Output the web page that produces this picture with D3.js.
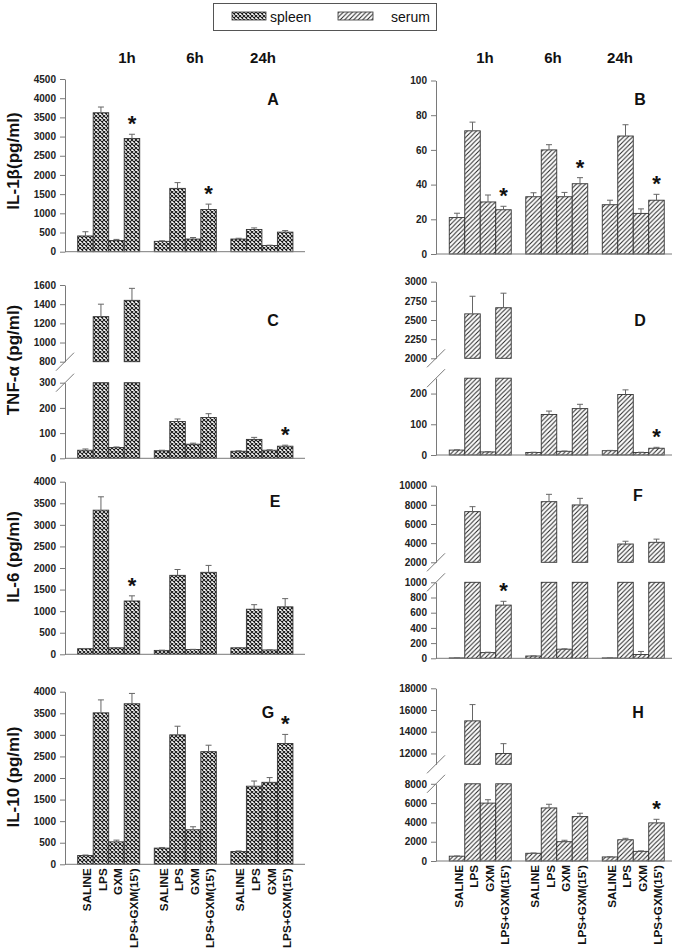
<!DOCTYPE html>
<html><head><meta charset="utf-8">
<script src="https://cdn.jsdelivr.net/npm/d3@7"></script>
<style>body{margin:0;background:#fff} text{font-family:"Liberation Sans",Arial,sans-serif}</style>
</head><body><svg id="c" width="680" height="952"></svg>
<script>
// ---------- DATA ----------
const groups = ["1h","6h","24h"];
const treatments = ["SALINE","LPS","GXM","LPS+GXM(15')"];
const tissues = ["spleen","serum"];

// values [group][treatment], error tops [group][treatment], stars [group,treatment]
const il1bSpleen    = [[410,3620,290,2950],[270,1650,330,1100],[330,580,160,510]];
const il1bSpleenErr = [[520,3770,320,3060],[285,1800,370,1240],[350,620,170,550]];
const il1bSpleenStars = [[0,3],[1,3]];
const il1bSerum     = [[21,71,30,25.5],[33,60,33,40.5],[28.4,68,23.4,31]];
const il1bSerumErr  = [[23.5,76,34,27.5],[35.3,63,35.5,44],[31,74.5,26,34.4]];
const il1bSerumStars = [[0,3],[1,3],[2,3]];

const tnfSpleen     = [[32,1270,43,1440],[30,146,56,162],[28,75,32,48]];
const tnfSpleenErr  = [[37,1400,45,1565],[32,156,60,177],[30,83,34,52]];
const tnfSpleenStars = [[2,3]];
const tnfSerum      = [[16,2580,10,2660],[8,132,12,151],[14,197,8,22]];
const tnfSerumErr   = [[17,2810,11,2850],[9,143,13,165],[15,212,9,25]];
const tnfSerumStars = [[2,3]];

const il6Spleen     = [[130,3340,150,1235],[90,1830,110,1900],[150,1045,100,1100]];
const il6SpleenErr  = [[135,3650,155,1355],[95,1965,115,2060],[155,1150,105,1290]];
const il6SpleenStars = [[0,3]];
const il6Serum      = [[5,7290,75,700],[30,8330,120,7990],[5,3910,50,4090]];
const il6SerumErr   = [[6,7810,80,750],[32,9100,125,8680],[6,4200,90,4420]];
const il6SerumStars = [[0,3]];

const il10Spleen    = [[205,3510,520,3720],[375,3000,800,2610],[295,1810,1900,2800]];
const il10SpleenErr = [[215,3810,560,3960],[390,3200,870,2760],[310,1930,2010,3010]];
const il10SpleenStars = [[2,3]];
const il10Serum     = [[500,15000,6000,12000],[800,5500,2000,4600],[420,2200,1000,3950]];
const il10SerumErr  = [[520,16500,6350,12900],[830,5880,2150,4950],[440,2350,1050,4320]];
const il10SerumStars = [[2,3]];

// axis segments (value domains) and tick labels
const il1bSpleenTicks = [0,500,1000,1500,2000,2500,3000,3500,4000,4500];
const il1bSerumTicks  = [0,20,40,60,80,100];
const tnfSpleenTicksLow = [0,100,200,300], tnfSpleenTicksHigh = [800,1000,1200,1400,1600];
const tnfSerumTicksLow  = [0,100,200],     tnfSerumTicksHigh  = [2000,2250,2500,2750,3000];
const il6SpleenTicks = [0,500,1000,1500,2000,2500,3000,3500,4000];
const il6SerumTicksLow = [0,200,400,600,800,1000], il6SerumTicksHigh = [2000,4000,6000,8000,10000];
const il10SpleenTicks = [0,500,1000,1500,2000,2500,3000,3500,4000];
const il10SerumTicksLow = [0,2000,4000,6000,8000], il10SerumTicksHigh = [12000,14000,16000,18000];

const yLabels = ["IL-1β(pg/ml)","TNF-α (pg/ml)","IL-6 (pg/ml)","IL-10 (pg/ml)"];
const letters = ["A","B","C","D","E","F","G","H"];

// ---------- LAYOUT ----------
const svg = d3.select("#c");
const FONT = '"Liberation Sans",Arial,sans-serif';
const AX = "#7a7a7a";

const defs = svg.append("defs");
const pS = defs.append("pattern").attr("id","pat-spleen").attr("patternUnits","userSpaceOnUse")
  .attr("width",4).attr("height",4);
pS.append("rect").attr("width",4).attr("height",4).attr("fill","#fff");
pS.append("path").attr("d","M0,0L4,4M4,0L0,4").attr("stroke","#1a1a1a").attr("stroke-width",1.1);
const pR = defs.append("pattern").attr("id","pat-serum").attr("patternUnits","userSpaceOnUse")
  .attr("width",4.5).attr("height",4.5);
pR.append("rect").attr("width",4.5).attr("height",4.5).attr("fill","#fff");
pR.append("path").attr("d","M0,4.5L4.5,0M-1.2,1.2L1.2,-1.2M3.3,5.7L5.7,3.3").attr("stroke","#222").attr("stroke-width",1);

const cols = [
  {range:[70.4,300.2], axisX:65, base:[65,305], headerX:[127,195,263]},
  {range:[442,671.5], axisX:436, base:[436,672], headerX:[485,553,620]}
];

const panels = [
  {col:0, tissue:0, vals:il1bSpleen, err:il1bSpleenErr, stars:il1bSpleenStars,
   segs:[{d:[0,4500], r:[251.7,79], ticks:il1bSpleenTicks}], row:0, letterPos:[273,99]},
  {col:1, tissue:1, vals:il1bSerum, err:il1bSerumErr, stars:il1bSerumStars,
   segs:[{d:[0,100], r:[254,80.5], ticks:il1bSerumTicks}], row:0, letterPos:[640,99]},
  {col:0, tissue:0, vals:tnfSpleen, err:tnfSpleenErr, stars:tnfSpleenStars,
   segs:[{d:[0,300], r:[458.3,382.7], ticks:tnfSpleenTicksLow},{d:[800,1600], r:[361.7,285], ticks:tnfSpleenTicksHigh}], row:1, letterPos:[273,320]},
  {col:1, tissue:1, vals:tnfSerum, err:tnfSerumErr, stars:tnfSerumStars,
   segs:[{d:[0,250], r:[455,378.2], ticks:tnfSerumTicksLow},{d:[2000,3000], r:[358.3,281.7], ticks:tnfSerumTicksHigh}], row:1, letterPos:[640,320]},
  {col:0, tissue:0, vals:il6Spleen, err:il6SpleenErr, stars:il6SpleenStars,
   segs:[{d:[0,4000], r:[654.3,481.7], ticks:il6SpleenTicks}], row:2, letterPos:[275,501]},
  {col:1, tissue:1, vals:il6Serum, err:il6SerumErr, stars:il6SerumStars,
   segs:[{d:[0,1000], r:[658.3,582.3], ticks:il6SerumTicksLow},{d:[2000,10000], r:[562.3,485.7], ticks:il6SerumTicksHigh}], row:2, letterPos:[638,495]},
  {col:0, tissue:0, vals:il10Spleen, err:il10SpleenErr, stars:il10SpleenStars,
   segs:[{d:[0,4000], r:[864.3,691.7], ticks:il10SpleenTicks}], row:3, letterPos:[268,712], xlabels:true},
  {col:1, tissue:1, vals:il10Serum, err:il10SerumErr, stars:il10SerumStars,
   segs:[{d:[0,8000], r:[861,783.8], ticks:il10SerumTicksLow},{d:[11000,18000], r:[764.3,688.3], ticks:il10SerumTicksHigh}], row:3, letterPos:[638,712], xlabels:true}
];
const yLabelCenters = [161,360,557,777];

// Legend
const lg = svg.append("g");
lg.append("rect").attr("x",213.5).attr("y",3.5).attr("width",223).attr("height",27)
  .attr("fill","#fff").attr("stroke","#555").attr("stroke-width",1);
lg.append("rect").attr("x",232).attr("y",12).attr("width",34).attr("height",8)
  .attr("fill","url(#pat-spleen)").attr("stroke","#333").attr("stroke-width",0.8);
lg.append("text").attr("x",270).attr("y",21.5).attr("font-size",14).attr("fill","#111").text(tissues[0]);
lg.append("rect").attr("x",338).attr("y",12).attr("width",35).attr("height",8)
  .attr("fill","url(#pat-serum)").attr("stroke","#333").attr("stroke-width",0.8);
lg.append("text").attr("x",391).attr("y",21.5).attr("font-size",14).attr("fill","#111").text(tissues[1]);

// Column headers
cols.forEach(c => {
  svg.selectAll(null).data(groups).join("text")
    .attr("x",(d,i)=>c.headerX[i]).attr("y",63).attr("text-anchor","middle")
    .attr("font-size",15).attr("font-weight","bold").attr("fill","#111").text(d=>d);
});

// Y labels
yLabels.forEach((t,i)=>{
  svg.append("text").attr("transform",`translate(13,${yLabelCenters[i]}) rotate(-90)`)
    .attr("text-anchor","middle").attr("dy","0.35em").attr("font-size",17)
    .attr("font-weight","bold").attr("fill","#111").text(t);
});

panels.forEach((p,pi)=>{
  const c = cols[p.col];
  const g = svg.append("g");
  const x0 = d3.scaleBand().domain(groups).range(c.range).paddingInner(0.19).paddingOuter(0.095);
  const x1 = d3.scaleBand().domain(treatments).range([0,x0.bandwidth()]);
  const fill = p.tissue===0 ? "url(#pat-spleen)" : "url(#pat-serum)";
  const bars = [];
  groups.forEach((gr,gi)=>treatments.forEach((tr,ti)=>bars.push({gr,tr,gi,ti,v:p.vals[gi][ti],e:p.err[gi][ti]})));
  const star = new Set(p.stars.map(s=>s[0]+"-"+s[1]));

  p.segs.forEach((s,si)=>{
    const y = d3.scaleLinear().domain(s.d).range(s.r);
    const lo = s.d[0], hi = s.d[1];
    g.selectAll(null).data(bars.filter(b=>b.v>lo)).join("rect")
      .attr("x",b=>x0(b.gr)+x1(b.tr)).attr("width",x1.bandwidth())
      .attr("y",b=>y(Math.min(b.v,hi))).attr("height",b=>y(lo)-y(Math.min(b.v,hi)))
      .attr("fill",fill).attr("stroke","#333").attr("stroke-width",0.9);
    const eb = bars.filter(b=>b.v>=lo && b.v<=hi);
    g.selectAll(null).data(eb).join("path")
      .attr("d",b=>{const cx=x0(b.gr)+x1(b.tr)+x1.bandwidth()/2, yt=y(Math.min(b.e,hi)), yb=y(b.v);
        return `M${cx},${yb}V${yt}M${cx-3},${yt}H${cx+3}`;})
      .attr("stroke","#666").attr("stroke-width",1).attr("fill","none");
    g.selectAll(null).data(eb.filter(b=>star.has(b.gi+"-"+b.ti))).join("text")
      .attr("x",b=>x0(b.gr)+x1(b.tr)+x1.bandwidth()/2).attr("y",b=>y(Math.min(b.e,hi))-3)
      .attr("text-anchor","middle").attr("font-size",22).attr("font-weight","bold").attr("fill","#111").text("*");
    const ax = g.append("g").attr("transform",`translate(${c.axisX},0)`)
      .call(d3.axisLeft(y).tickValues(s.ticks).tickSize(5).tickSizeOuter(0).tickPadding(4).tickFormat(d3.format("d")));
    ax.select(".domain").attr("stroke",AX);
    ax.selectAll(".tick line").attr("stroke",AX);
    ax.selectAll(".tick text").attr("font-family",FONT).attr("font-size",10).attr("font-weight","bold").attr("fill","#222");
    if (p.segs.length>1) {
      const yy = si===0 ? s.r[1] : s.r[0];
      g.append("line").attr("x1",c.axisX-9).attr("y1",yy+9).attr("x2",c.axisX+9).attr("y2",yy-9)
        .attr("stroke",AX).attr("stroke-width",1);
    }
  });
  const yb = p.segs[0].r[0];
  g.append("line").attr("x1",c.base[0]).attr("x2",c.base[1]).attr("y1",yb).attr("y2",yb).attr("stroke",AX).attr("stroke-width",1);
  g.append("text").attr("x",p.letterPos[0]).attr("y",p.letterPos[1]).attr("dy","0.36em").attr("text-anchor","middle")
    .attr("font-size",16).attr("font-weight","bold").attr("fill","#111").text(letters[pi]);
  if (p.xlabels) {
    g.selectAll(null).data(bars).join("text")
      .attr("transform",b=>`translate(${x0(b.gr)+x1(b.tr)+x1.bandwidth()/2},${yb+4}) rotate(-90)`)
      .attr("text-anchor","end").attr("dy","0.5em").attr("font-size",11.7).attr("font-weight","bold").attr("fill","#111")
      .text(b=>b.tr);
  }
});
</script></body></html>
